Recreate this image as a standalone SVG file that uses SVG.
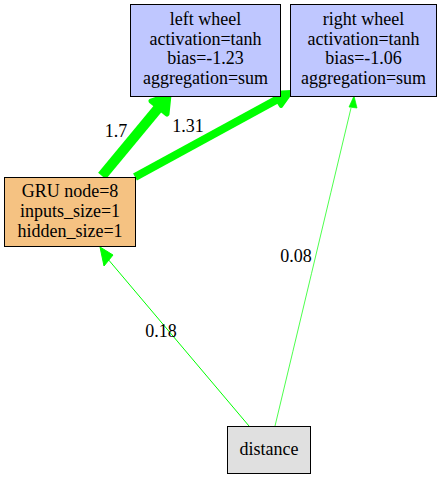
<svg xmlns="http://www.w3.org/2000/svg" width="445" height="480" viewBox="0 0 445 480">
<style>
text{font-size:18px;fill:#000;text-anchor:middle}
.box{stroke:#000;stroke-width:1}
.out{fill:#bfc7ff}
.gru{fill:#f5c282}
.inp{fill:#e0e0e0}
.e{stroke:#00ff00;fill:none}
.h{fill:#00ff00;stroke:#00ff00;stroke-linejoin:round}
</style>
<rect width="445" height="480" fill="#fff"/>
<g font-family="Liberation Serif, DejaVu Serif, serif">
<g id="edges">
<line class="e" x1="102" y1="176" x2="160" y2="106" stroke-width="10"/>
<polygon class="h" points="169,95 151,101 167,114" stroke-width="5"/>
<line class="e" x1="135" y1="177" x2="278" y2="99" stroke-width="8"/>
<polygon class="h" points="291,92 273,93 281,106" stroke-width="4"/>
<line class="e" x1="249" y1="426" x2="107" y2="258" stroke-width="1"/>
<polygon class="h" points="100,247 113,255 104,266" stroke-width="1"/>
<path class="e" d="M275,426 Q310,280 351,108" stroke-width="0.7"/>
<polygon class="h" points="354,96 357,108 349,107" stroke-width="0.7"/>
<text x="116" y="137">1.7</text>
<text x="188" y="132">1.31</text>
<text x="161" y="337">0.18</text>
<text x="296" y="262">0.08</text>
</g>
<g id="left_wheel">
<rect class="box out" x="130.5" y="4.5" width="150" height="92"/>
<text x="205.5" y="25">left wheel</text>
<text x="205.5" y="45">activation=tanh</text>
<text x="205.5" y="64">bias=-1.23</text>
<text x="205.5" y="84">aggregation=sum</text>
</g>
<g id="right_wheel">
<rect class="box out" x="290.5" y="4.5" width="146" height="92"/>
<text x="363.5" y="25">right wheel</text>
<text x="363.5" y="45">activation=tanh</text>
<text x="363.5" y="64">bias=-1.06</text>
<text x="363.5" y="84">aggregation=sum</text>
</g>
<g id="gru">
<rect class="box gru" x="4.5" y="177.5" width="131" height="69"/>
<text x="70" y="197">GRU node=8</text>
<text x="70" y="217">inputs_size=1</text>
<text x="70" y="237">hidden_size=1</text>
</g>
<g id="distance">
<rect class="box inp" x="227.5" y="426.5" width="83" height="47"/>
<text x="269" y="455">distance</text>
</g>
</g>
</svg>
